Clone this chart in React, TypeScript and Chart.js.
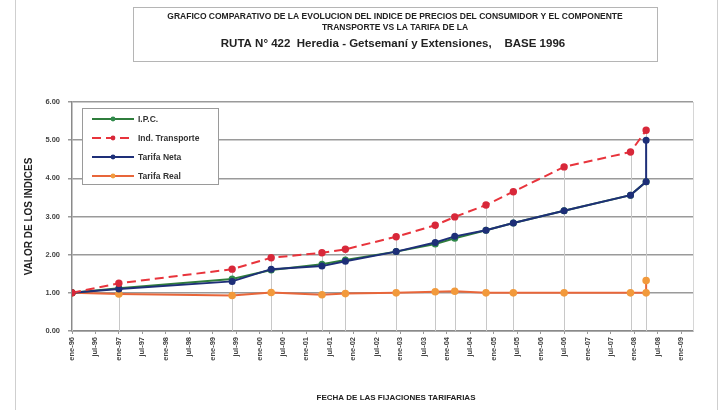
import React, { useEffect, useRef } from 'react';
import { Chart, registerables } from 'chart.js';

Chart.register(...registerables);

// ---- data ----
const xTickLabels = [
  'ene-96', 'jul-96', 'ene-97', 'jul-97', 'ene-98', 'jul-98', 'ene-99', 'jul-99',
  'ene-00', 'jul-00', 'ene-01', 'jul-01', 'ene-02', 'jul-02', 'ene-03', 'jul-03',
  'ene-04', 'jul-04', 'ene-05', 'jul-05', 'ene-06', 'jul-06', 'ene-07', 'jul-07',
  'ene-08', 'jul-08', 'ene-09',
];
// months elapsed since the base date (first tick)
const fechaMeses = [0, 12, 41, 51, 64, 70, 83, 93, 98, 106, 113, 126, 143, 147];
const fechaMesesTarifa = [0, 12, 41, 51, 64, 70, 83, 93, 98, 106, 113, 126, 143, 147, 147];
const ipc = [1.0, 1.12, 1.36, 1.6, 1.75, 1.86, 2.08, 2.28, 2.43, 2.64, 2.83, 3.15, 3.56, 3.91];
const indTransporte = [1.0, 1.25, 1.62, 1.92, 2.05, 2.14, 2.47, 2.77, 2.99, 3.3, 3.65, 4.3, 4.69, 5.26];
const tarifaNeta = [1.0, 1.1, 1.3, 1.62, 1.7, 1.83, 2.08, 2.32, 2.48, 2.64, 2.83, 3.15, 3.56, 3.91, 5.0];
const tarifaReal = [1.0, 0.97, 0.93, 1.01, 0.95, 0.98, 1.0, 1.03, 1.04, 1.0, 1.0, 1.0, 1.0, 1.0, 1.32];
const seriesNames = ['I.P.C.', 'Ind. Transporte', 'Tarifa Neta', 'Tarifa Real'];
const titleLines = [
  'GRAFICO COMPARATIVO DE LA EVOLUCION DEL INDICE DE PRECIOS DEL CONSUMIDOR Y EL COMPONENTE',
  'TRANSPORTE VS LA TARIFA DE LA',
  'RUTA N° 422  Heredia - Getsemaní y Extensiones,    BASE 1996',
];
const yAxisTitle = 'VALOR DE LOS INDICES';
const xAxisTitle = 'FECHA DE LAS FIJACIONES TARIFARIAS';

const FONT = '"Liberation Sans", Arial, sans-serif';

const pts = (xs: number[], ys: number[]) => ys.map((y, i) => ({ x: xs[i], y }));

const decorPlugin = {
  id: 'decor',
  beforeDatasetsDraw(chart: any) {
    const { ctx, chartArea, scales } = chart;
    const xs = scales.x;
    const ys = scales.y;
    ctx.save();
    // drop lines at each fare-fixing date
    const maxAt: Record<number, number> = {};
    chart.data.datasets.forEach((ds: any) => {
      ds.data.forEach((p: any) => {
        maxAt[p.x] = Math.max(maxAt[p.x] ?? -Infinity, p.y);
      });
    });
    ctx.strokeStyle = '#c8c8c8';
    ctx.lineWidth = 1;
    Object.keys(maxAt).forEach((k) => {
      const px = Math.round(xs.getPixelForValue(Number(k))) + 0.5;
      ctx.beginPath();
      ctx.moveTo(px, ys.getPixelForValue(maxAt[Number(k)]));
      ctx.lineTo(px, chartArea.bottom);
      ctx.stroke();
    });
    // right border of plot
    ctx.strokeStyle = '#d6d6d6';
    ctx.beginPath();
    ctx.moveTo(chartArea.right + 0.5, chartArea.top);
    ctx.lineTo(chartArea.right + 0.5, chartArea.bottom);
    ctx.stroke();
    ctx.restore();
  },
  afterDraw(chart: any) {
    const { ctx } = chart;
    ctx.save();
    // outer frame lines
    ctx.strokeStyle = '#cfcfcf';
    ctx.lineWidth = 1;
    ctx.beginPath();
    ctx.moveTo(15.5, 0);
    ctx.lineTo(15.5, 410);
    ctx.moveTo(717.5, 0);
    ctx.lineTo(717.5, 410);
    ctx.stroke();

    // title box
    ctx.fillStyle = '#ffffff';
    ctx.fillRect(133.5, 7.5, 524, 54);
    ctx.strokeStyle = '#b5b5b5';
    ctx.strokeRect(133.5, 7.5, 524, 54);
    ctx.fillStyle = '#222';
    ctx.textAlign = 'center';
    ctx.textBaseline = 'middle';
    ctx.font = `bold 8.5px ${FONT}`;
    ctx.fillText(titleLines[0], 395, 17, 516);
    ctx.fillText(titleLines[1], 395, 28);
    ctx.font = `bold 11.5px ${FONT}`;
    ctx.fillText(titleLines[2], 393, 44, 362);

    // x axis title
    ctx.font = `bold 8px ${FONT}`;
    ctx.fillText(xAxisTitle, 396, 398, 192);

    // legend box
    const lx = 82.5, ly = 108.5, lw = 136, lh = 76;
    ctx.fillStyle = '#ffffff';
    ctx.fillRect(lx, ly, lw, lh);
    ctx.strokeStyle = '#9a9a9a';
    ctx.strokeRect(lx, ly, lw, lh);
    chart.data.datasets.forEach((ds: any, i: number) => {
      const y = 119 + i * 19;
      ctx.strokeStyle = ds.borderColor;
      ctx.lineWidth = ds.borderWidth;
      ctx.setLineDash(ds.borderDash || []);
      ctx.beginPath();
      ctx.moveTo(92, y);
      ctx.lineTo(134, y);
      ctx.stroke();
      ctx.setLineDash([]);
      ctx.fillStyle = ds.pointBackgroundColor;
      ctx.beginPath();
      ctx.arc(113, y, 2.4, 0, Math.PI * 2);
      ctx.fill();
      ctx.fillStyle = '#333';
      ctx.textAlign = 'left';
      ctx.font = `bold 8.5px ${FONT}`;
      ctx.fillText(ds.label, 138, y + 0.5);
    });
    ctx.restore();
  },
};

export default function App() {
  const ref = useRef<HTMLCanvasElement | null>(null);
  useEffect(() => {
    if (!ref.current) return;
    Chart.defaults.font.family = FONT;
    const chart = new Chart(ref.current, {
      type: 'line',
      data: {
        datasets: [
          {
            label: seriesNames[0],
            data: pts(fechaMeses, ipc),
            borderColor: '#2f7d3c',
            backgroundColor: '#2f7d3c',
            pointBackgroundColor: '#2f8a4a',
            pointBorderColor: '#2f8a4a',
            borderWidth: 2,
            pointRadius: 2.5,
            pointStyle: 'circle',
            order: 2,
          },
          {
            label: seriesNames[1],
            data: pts(fechaMeses, indTransporte),
            borderColor: '#e8343c',
            backgroundColor: '#e8343c',
            pointBackgroundColor: '#d8283a',
            pointBorderColor: '#d8283a',
            borderWidth: 2,
            borderDash: [9, 5],
            pointRadius: 2.7,
            pointStyle: 'circle',
            order: 0,
          },
          {
            label: seriesNames[2],
            data: pts(fechaMesesTarifa, tarifaNeta),
            borderColor: '#1e2f78',
            backgroundColor: '#1e2f78',
            pointBackgroundColor: '#1e2f78',
            pointBorderColor: '#1e2f78',
            borderWidth: 2,
            pointRadius: 2.5,
            pointStyle: 'circle',
            order: 1,
          },
          {
            label: seriesNames[3],
            data: pts(fechaMesesTarifa, tarifaReal),
            borderColor: '#e8663a',
            backgroundColor: '#f29a3c',
            pointBackgroundColor: '#f29a3c',
            pointBorderColor: '#f29a3c',
            borderWidth: 2,
            pointRadius: 2.8,
            pointStyle: 'circle',
            order: 3,
          },
        ],
      },
      options: {
        responsive: false,
        animation: false,
        parsing: false as any,
        layout: { padding: { left: 19, top: 102, right: 33, bottom: 4 } },
        plugins: {
          legend: { display: false },
          tooltip: { enabled: false },
          title: { display: false },
        },
        scales: {
          x: {
            type: 'linear',
            min: 0,
            max: 159,
            afterFit: (s: any) => {
              s.height = 75;
            },
            afterBuildTicks: (s: any) => {
              s.ticks = xTickLabels.map((_, i) => ({ value: i * 6 }));
            },
            ticks: {
              autoSkip: false,
              minRotation: 90,
              maxRotation: 90,
              padding: 3,
              color: '#444',
              font: { size: 7.5, weight: 'bold' },
              callback: (v: any) => xTickLabels[Math.round(Number(v) / 6)] ?? '',
            },
            grid: {
              drawOnChartArea: false,
              tickLength: 3,
              color: '#999',
            },
            border: { color: '#8a8a8a', width: 1.5 },
          },
          y: {
            min: 0,
            max: 6,
            afterFit: (s: any) => {
              s.width = 53;
            },
            ticks: {
              stepSize: 1,
              padding: 8,
              color: '#444',
              font: { size: 7.5, weight: 'bold' },
              callback: (v: any) => Number(v).toFixed(2),
            },
            grid: {
              color: '#9a9a9a',
              lineWidth: 1.5,
              tickLength: 4,
            },
            border: { color: '#8a8a8a', width: 1.5 },
            title: {
              display: true,
              text: yAxisTitle,
              color: '#222',
              font: { size: 10, weight: 'bold' },
              padding: { top: 4, bottom: 0 },
            },
          },
        },
      },
      plugins: [decorPlugin],
    } as any);
    return () => chart.destroy();
  }, []);
  return (
    <div style={{ position: 'absolute', left: 0, top: 0, width: 726, height: 410, background: '#fff' }}>
      <canvas ref={ref} width={726} height={410} />
    </div>
  );
}
